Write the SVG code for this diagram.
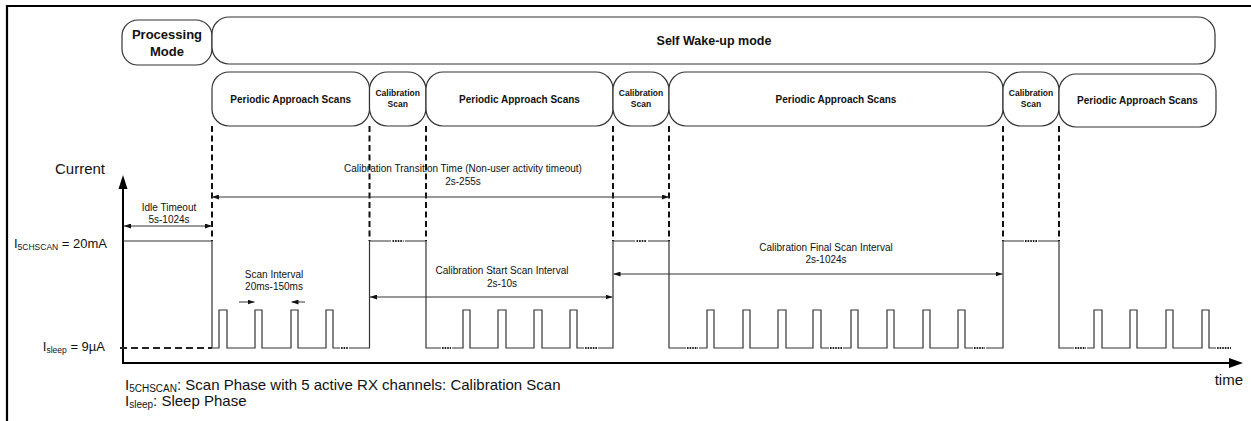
<svg xmlns="http://www.w3.org/2000/svg" width="1251" height="421" viewBox="0 0 1251 421">
<style>
text{font-family:"Liberation Sans",Arial,Helvetica,sans-serif;fill:#111}
.box{fill:#fff;stroke:#333;stroke-width:1.2}
.bt{font-weight:bold;text-anchor:middle}
.lbl{font-size:10px;text-anchor:middle}
.big{font-size:15px}
.vd{stroke:#111;stroke-width:2;stroke-dasharray:6 3.5;fill:none}
.wave{stroke:#333;stroke-width:1.2;fill:none}
.dots{stroke:#222;stroke-width:2.2;stroke-dasharray:1.6 1;fill:none}
.dim{stroke:#333;stroke-width:1;fill:none;marker-start:url(#ah);marker-end:url(#ah)}
.one{stroke:#333;stroke-width:1;fill:none;marker-end:url(#ah)}
</style>
<defs>
<marker id="ah" viewBox="0 0 7 5" refX="7" refY="2.5" markerWidth="7" markerHeight="5" markerUnits="userSpaceOnUse" orient="auto-start-reverse"><path d="M0,0 L7,2.5 L0,5 z" fill="#111"/></marker>
</defs>

<!-- frame -->
<path d="M7,421 V6 H1251" stroke="#000" stroke-width="2.2" fill="none"/>

<g id="processing-mode">
<rect class="box" x="122" y="20" width="90" height="45" rx="16"/>
<text class="bt" x="167" y="39" font-size="13">Processing</text>
<text class="bt" x="167" y="56" font-size="13">Mode</text>
</g>
<g id="self-wakeup-mode">
<rect class="box" x="212" y="17" width="1003" height="47" rx="17"/>
<text class="bt" x="714" y="45" font-size="12.5">Self Wake-up mode</text>
</g>
<g id="pas1">
<rect class="box" x="212" y="72" width="157.5" height="54" rx="17"/>
<text class="bt" x="290.7" y="103" font-size="10">Periodic Approach Scans</text>
</g>
<g id="cs1">
<rect class="box" x="369.5" y="72" width="56.5" height="54" rx="18"/>
<text class="bt" x="397.7" y="96" font-size="8.5">Calibration</text>
<text class="bt" x="397.7" y="107" font-size="8.5">Scan</text>
</g>
<g id="pas2">
<rect class="box" x="426" y="72" width="187" height="54" rx="17"/>
<text class="bt" x="519.5" y="103" font-size="10">Periodic Approach Scans</text>
</g>
<g id="cs2">
<rect class="box" x="613" y="72" width="56" height="54" rx="18"/>
<text class="bt" x="641" y="96" font-size="8.5">Calibration</text>
<text class="bt" x="641" y="107" font-size="8.5">Scan</text>
</g>
<g id="pas3">
<rect class="box" x="669" y="72" width="334" height="54" rx="17"/>
<text class="bt" x="836" y="103" font-size="10">Periodic Approach Scans</text>
</g>
<g id="cs3">
<rect class="box" x="1003" y="72" width="56" height="54" rx="18"/>
<text class="bt" x="1031" y="96" font-size="8.5">Calibration</text>
<text class="bt" x="1031" y="107" font-size="8.5">Scan</text>
</g>
<g id="pas4">
<rect class="box" x="1059" y="74" width="157" height="53" rx="17"/>
<text class="bt" x="1137.5" y="104" font-size="10">Periodic Approach Scans</text>
</g>

<g id="connectors">
<!-- dashed phase boundaries -->
<path class="vd" d="M212,126 V241 M369.5,126 V241 M426,126 V241 M613,126 V241 M669,126 V241 M1003,126 V241 M1059,126 V241"/>
<!-- dimension arrows -->
<path class="dim" d="M124,226 H212"/>
<path class="dim" d="M212,197 H669"/>
<path class="one" d="M239,302 H254.5"/>
<path class="one" d="M305,302 H291.5"/>
<path class="dim" d="M370,297 H612.5"/>
<path class="dim" d="M613.5,274 H1002.5"/>
</g>

<g id="axes">
<path d="M123,363 V188" stroke="#000" stroke-width="2" fill="none"/>
<polygon points="123,175 118.5,189 127.5,189" fill="#000"/>
<path d="M122,363 H1230" stroke="#000" stroke-width="2" fill="none"/>
<polygon points="1243,363 1229,358 1229,368" fill="#000"/>
</g>

<g id="waveform">
<path d="M120,348 H212" stroke="#222" stroke-width="1.8" stroke-dasharray="7 4" fill="none"/>
<path class="wave" d="M123,241 H212 V348 H219 V310 H227 V348 H255 V310 H262 V348 H291 V310 H298 V348 H326 V310 H333 V348 H340"/>
<path class="wave" d="M349,348 H369.5 V241 H391"/>
<path class="wave" d="M405,241 H426 V348 H441"/>
<path class="wave" d="M452,348 H463 V310 H470 V348 H498 V310 H506 V348 H534 V310 H542 V348 H570 V310 H577 V348 H584"/>
<path class="wave" d="M598,348 H613 V241 H635"/>
<path class="wave" d="M648,241 H669 V348 H686"/>
<path class="wave" d="M699,348 H707 V310 H714 V348 H743 V310 H750 V348 H778 V310 H786 V348 H813 V310 H821 V348 H829"/>
<path class="wave" d="M843,348 H851 V310 H858 V348 H887 V310 H894 V348 H923 V310 H930 V348 H958 V310 H965 V348 H973"/>
<path class="wave" d="M986,348 H1003 V241 H1024"/>
<path class="wave" d="M1038,241 H1059 V348 H1074"/>
<path class="wave" d="M1087,348 H1094 V310 H1102 V348 H1130 V310 H1137 V348 H1166 V310 H1173 V348 H1202 V310 H1209 V348 H1216"/>
<path class="dots" d="M341,348 H348 M392.5,241 H403.5 M442,348 H451 M585,348 H597 M636.5,241 H647 M687,348 H698 M830,348 H842 M974,348 H985 M1025,241 H1037 M1075,348 H1086 M1217,348 H1231"/>
</g>

<g id="labels">
<text class="big" x="55" y="174">Current</text>
<text x="107" y="248" font-size="13" text-anchor="end">I<tspan font-size="8.5" dy="2">5CHSCAN</tspan><tspan dy="-2"> = 20mA</tspan></text>
<text x="105" y="351" font-size="13" text-anchor="end">I<tspan font-size="8.5" dy="2">sleep</tspan><tspan dy="-2"> = 9µA</tspan></text>
<text class="lbl" x="169" y="211">Idle Timeout</text>
<text class="lbl" x="169" y="223">5s-1024s</text>
<text class="lbl" x="463" y="172">Calibration Transition Time (Non-user activity timeout)</text>
<text class="lbl" x="463" y="185">2s-255s</text>
<text class="lbl" x="274" y="278">Scan Interval</text>
<text class="lbl" x="274" y="290">20ms-150ms</text>
<text class="lbl" x="502" y="274">Calibration Start Scan Interval</text>
<text class="lbl" x="502" y="287">2s-10s</text>
<text class="lbl" x="826" y="251">Calibration Final Scan Interval</text>
<text class="lbl" x="826" y="263">2s-1024s</text>
<text class="big" x="1243" y="385" text-anchor="end">time</text>
<text class="big" x="125" y="390">I<tspan font-size="10" dy="1.5">5CHSCAN</tspan><tspan dy="-1.5">: Scan Phase with 5 active RX channels: Calibration Scan</tspan></text>
<text class="big" x="125" y="406">I<tspan font-size="10" dy="1.5">sleep</tspan><tspan dy="-1.5">: Sleep Phase</tspan></text>
</g>
</svg>
